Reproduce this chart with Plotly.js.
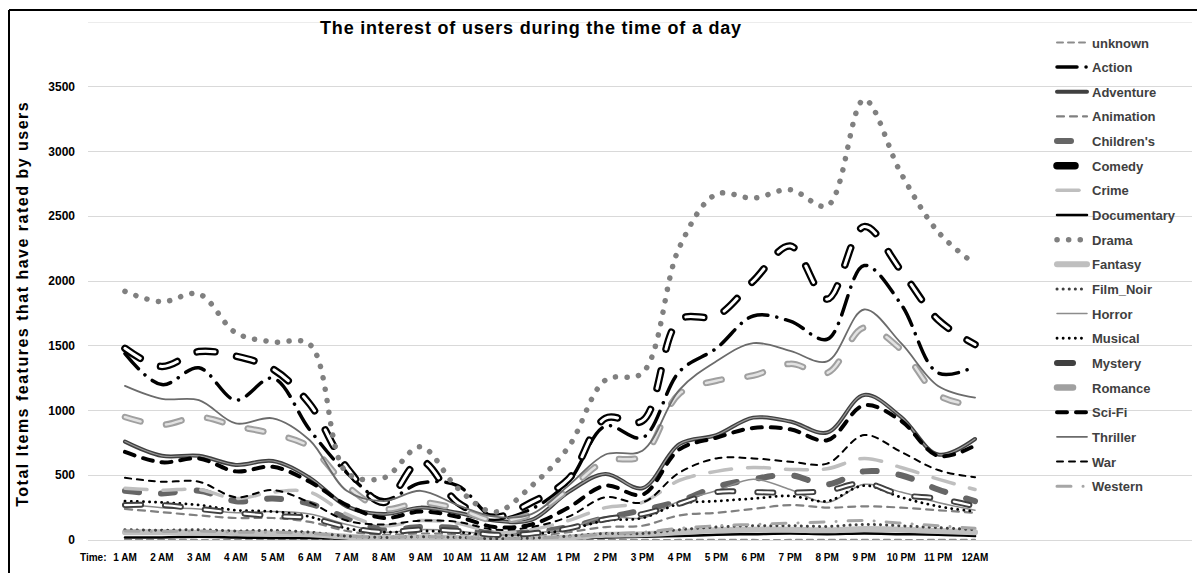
<!DOCTYPE html>
<html>
<head>
<meta charset="utf-8">
<script src="https://cdn.plot.ly/plotly-3.0.1.min.js"></script>
<style>
  html, body { margin: 0; padding: 0; background: #fff; }
  #chart { width: 1197px; height: 573px; }
  .js-line { stroke-linecap: round; }
  .annotation[data-index="0"] text { letter-spacing: 1.5px; }
  .gtitle { letter-spacing: 0.8px; }
</style>
</head>
<body>
<div id="chart"></div>
<script>
// ---- data ----
const times = ["1 AM","2 AM","3 AM","4 AM","5 AM","6 AM","7 AM","8 AM","9 AM","10 AM","11 AM","12 AM",
               "1 PM","2 PM","3 PM","4 PM","5 PM","6 PM","7 PM","8 PM","9 PM","10 PM","11 PM","12AM"];

const unknown     = [1,1,1,0,1,0,0,0,0,0,0,0,0,1,1,1,2,1,1,2,2,1,1,1];
const action      = [1440,1200,1330,1080,1250,850,520,310,440,420,170,240,450,880,790,1300,1480,1730,1690,1550,2120,1820,1290,1340];
const adventure   = [760,650,650,580,610,480,260,200,250,210,150,155,370,510,400,740,810,945,915,830,1120,950,660,780];
const animation   = [240,215,190,170,170,140,70,40,50,45,25,30,60,100,110,190,210,240,270,250,260,250,230,210];
const childrens   = [380,360,380,300,320,280,170,80,100,90,50,60,100,170,230,300,410,470,500,430,530,500,390,300];
const comedy      = [1480,1340,1455,1420,1320,1050,560,290,610,290,175,290,470,940,920,1700,1730,2000,2270,1860,2420,2080,1700,1510];
const crime       = [400,385,390,320,370,370,200,110,150,130,60,80,150,250,290,460,530,560,545,550,630,560,470,390];
const documentary = [20,20,25,20,15,15,10,5,8,5,3,5,10,20,25,30,40,45,50,45,50,45,40,30];
const drama       = [1920,1840,1900,1600,1530,1510,520,480,720,400,216,417,718,1235,1290,2260,2670,2640,2705,2580,3400,2830,2380,2130];
const fantasy     = [60,60,55,55,50,45,25,15,20,15,10,10,20,40,45,60,75,80,80,75,85,80,70,60];
const filmNoir    = [80,75,80,70,75,60,30,20,25,20,10,15,30,50,50,80,100,110,110,105,120,110,95,80];
const horror      = [280,250,240,210,220,200,120,60,80,70,40,50,90,180,170,300,380,470,390,290,430,370,290,230];
const musical     = [300,290,270,230,220,180,90,60,70,60,35,45,80,150,170,280,300,320,340,300,420,330,260,220];
const mystery     = [270,270,240,210,185,170,100,60,80,70,40,50,90,160,200,280,370,370,365,380,440,350,320,260];
const romance     = [950,890,950,880,820,720,420,240,290,240,150,200,390,610,650,1130,1230,1270,1360,1290,1640,1470,1120,1040];
const sciFi       = [680,600,630,530,565,450,270,170,220,180,100,120,250,420,350,700,790,865,855,770,1040,920,650,730];
const thriller    = [1190,1090,1080,900,940,770,380,300,380,270,180,200,420,660,690,1160,1380,1520,1460,1380,1780,1520,1190,1100];
const war         = [480,450,450,330,385,290,150,120,150,140,80,100,180,330,290,520,630,630,605,590,810,680,540,485];
const western     = [70,65,70,60,60,50,30,20,25,20,10,15,25,45,60,90,110,120,130,140,150,130,110,90];

const yTickVals  = [0,500,1000,1500,2000,2500,3000,3500,4000];
const yTickText  = ["0","500","1000","1500","2000","2500","3000","3500",""];

// ---- styles (series name -> look) ----
const series = [
  {name:"unknown",     y:unknown,     lines:[{color:"#8c8c8c", width:2,   dash:"6px,5px"}]},
  {name:"Action",      y:action,      lines:[{color:"#000000", width:3.5, dash:"20px,9px,0.1px,9px"}]},
  {name:"Adventure",   y:adventure,   lines:[{color:"#404040", width:4}, {color:"#9a9a9a", width:1.2}]},
  {name:"Animation",   y:animation,   lines:[{color:"#808080", width:2.2, dash:"7px,6px"}]},
  {name:"Children's",  y:childrens,   lines:[{color:"#666666", width:6,   dash:"14px,22px"}]},
  {name:"Comedy",      y:comedy,      lines:[{color:"#000000", width:7.5, dash:"18px,22px"}, {color:"#ffffff", width:3, dash:"18px,22px"}]},
  {name:"Crime",       y:crime,       lines:[{color:"#bfbfbf", width:3.5, dash:"22px,16px"}]},
  {name:"Documentary", y:documentary, lines:[{color:"#000000", width:2.5}]},
  {name:"Drama",       y:drama,       lines:[{color:"#808080", width:5.5, dash:"0.1px,11.5px"}]},
  {name:"Fantasy",     y:fantasy,     lines:[{color:"#bfbfbf", width:6}]},
  {name:"Film_Noir",   y:filmNoir,    lines:[{color:"#404040", width:3,   dash:"0.1px,6px"}]},
  {name:"Horror",      y:horror,      lines:[{color:"#8c8c8c", width:1.5}]},
  {name:"Musical",     y:musical,     lines:[{color:"#000000", width:2.8, dash:"0.1px,6px"}]},
  {name:"Mystery",     y:mystery,     lines:[{color:"#404040", width:6,   dash:"16px,24px"}, {color:"#ffffff", width:2.2, dash:"16px,24px"}]},
  {name:"Romance",     y:romance,     lines:[{color:"#a0a0a0", width:6.5, dash:"16px,26px"}, {color:"#e2e2e2", width:2.5, dash:"16px,26px"}]},
  {name:"Sci-Fi",      y:sciFi,       lines:[{color:"#000000", width:4,   dash:"10px,9px"}]},
  {name:"Thriller",    y:thriller,    lines:[{color:"#6b6b6b", width:1.8}]},
  {name:"War",         y:war,         lines:[{color:"#000000", width:2,   dash:"6px,6px"}]},
  {name:"Western",     y:western,     lines:[{color:"#a6a6a6", width:3,   dash:"14px,12px,0.1px,12px"}]}
];

const traces = [];
series.forEach(function(s){
  s.lines.forEach(function(ln, k){
    traces.push({
      type: "scatter",
      mode: "lines",
      x: times,
      y: s.y,
      name: s.name,
      legendgroup: s.name,
      showlegend: k === 0,
      hoverinfo: "skip",
      line: {color: ln.color, width: ln.width, dash: ln.dash || "solid", shape: "spline", smoothing: 1}
    });
  });
});

const PL = 88, PR = 1192, PT = 22, PB = 540;
const PW = PR - PL, PH = PB - PT;
function px2x(px) { return (px - PL) / PW; }
function px2y(py) { return (PB - py) / PH; }

const layout = {
  width: 1197,
  height: 573,
  margin: {l: PL, r: 1197 - PR, t: PT, b: 573 - PB, pad: 0},
  paper_bgcolor: "#ffffff",
  plot_bgcolor: "rgba(0,0,0,0)",
  font: {family: "Liberation Sans, Arial, sans-serif", color: "#000000"},
  title: {
    text: "The interest of users during the time of a day",
    font: {size: 18, weight: "bold", color: "#000000"},
    xref: "container", yref: "container",
    x: 531/1197, y: 1 - 28/573, xanchor: "center", yanchor: "middle"
  },
  xaxis: {
    type: "category",
    categoryorder: "array",
    categoryarray: times,
    range: [-1.0, 28.87],
    automargin: false,
    showgrid: false,
    zeroline: false,
    showline: true,
    linecolor: "#d9d9d9",
    linewidth: 1,
    ticks: "",
    tickangle: 0,
    ticklabelstandoff: 8,
    tickfont: {size: 10, weight: "bold", color: "#000000"},
    fixedrange: true
  },
  yaxis: {
    range: [0, 4000],
    automargin: false,
    tickvals: yTickVals,
    ticktext: yTickText,
    showgrid: true,
    gridcolor: "#d9d9d9",
    gridwidth: 1,
    zeroline: false,
    showline: false,
    ticks: "",
    ticklabelstandoff: 12,
    tickfont: {size: 12, weight: "bold", color: "#000000"},
    fixedrange: true
  },
  legend: {
    xref: "paper", yref: "paper",
    x: px2x(1052), y: px2y(27.5),
    xanchor: "left", yanchor: "top",
    bgcolor: "rgba(0,0,0,0)",
    borderwidth: 0,
    traceorder: "grouped",
    tracegroupgap: 4.75,
    maxheight: 540,
    font: {size: 13, weight: "bold", color: "#404040"}
  },
  annotations: [
    {
      text: "Total Items features that have rated by users",
      xref: "paper", yref: "paper",
      x: px2x(22), y: px2y(304),
      xanchor: "center", yanchor: "middle",
      textangle: -90,
      showarrow: false,
      font: {size: 16, weight: "bold", color: "#000000"}
    },
    {
      text: "Time:",
      xref: "paper", yref: "paper",
      x: px2x(109), y: px2y(557),
      xanchor: "right", yanchor: "middle",
      showarrow: false,
      font: {size: 10, weight: "bold", color: "#000000"}
    }
  ],
  shapes: [
    {type: "line", xref: "paper", yref: "y", layer: "below",
     x0: 0, x1: 1, y0: 4000, y1: 4000,
     line: {color: "#d9d9d9", width: 1}},
    {type: "line", xref: "paper", yref: "paper",
     x0: px2x(9), x1: px2x(1300),
     y0: px2y(10), y1: px2y(10),
     line: {color: "#000000", width: 2}},
    {type: "line", xref: "paper", yref: "paper",
     x0: px2x(9), x1: px2x(9),
     y0: px2y(10), y1: px2y(700),
     line: {color: "#000000", width: 2}}
  ],
  showlegend: true
};

Plotly.newPlot("chart", traces, layout, {displayModeBar: false, staticPlot: true});
</script>
</body>
</html>
